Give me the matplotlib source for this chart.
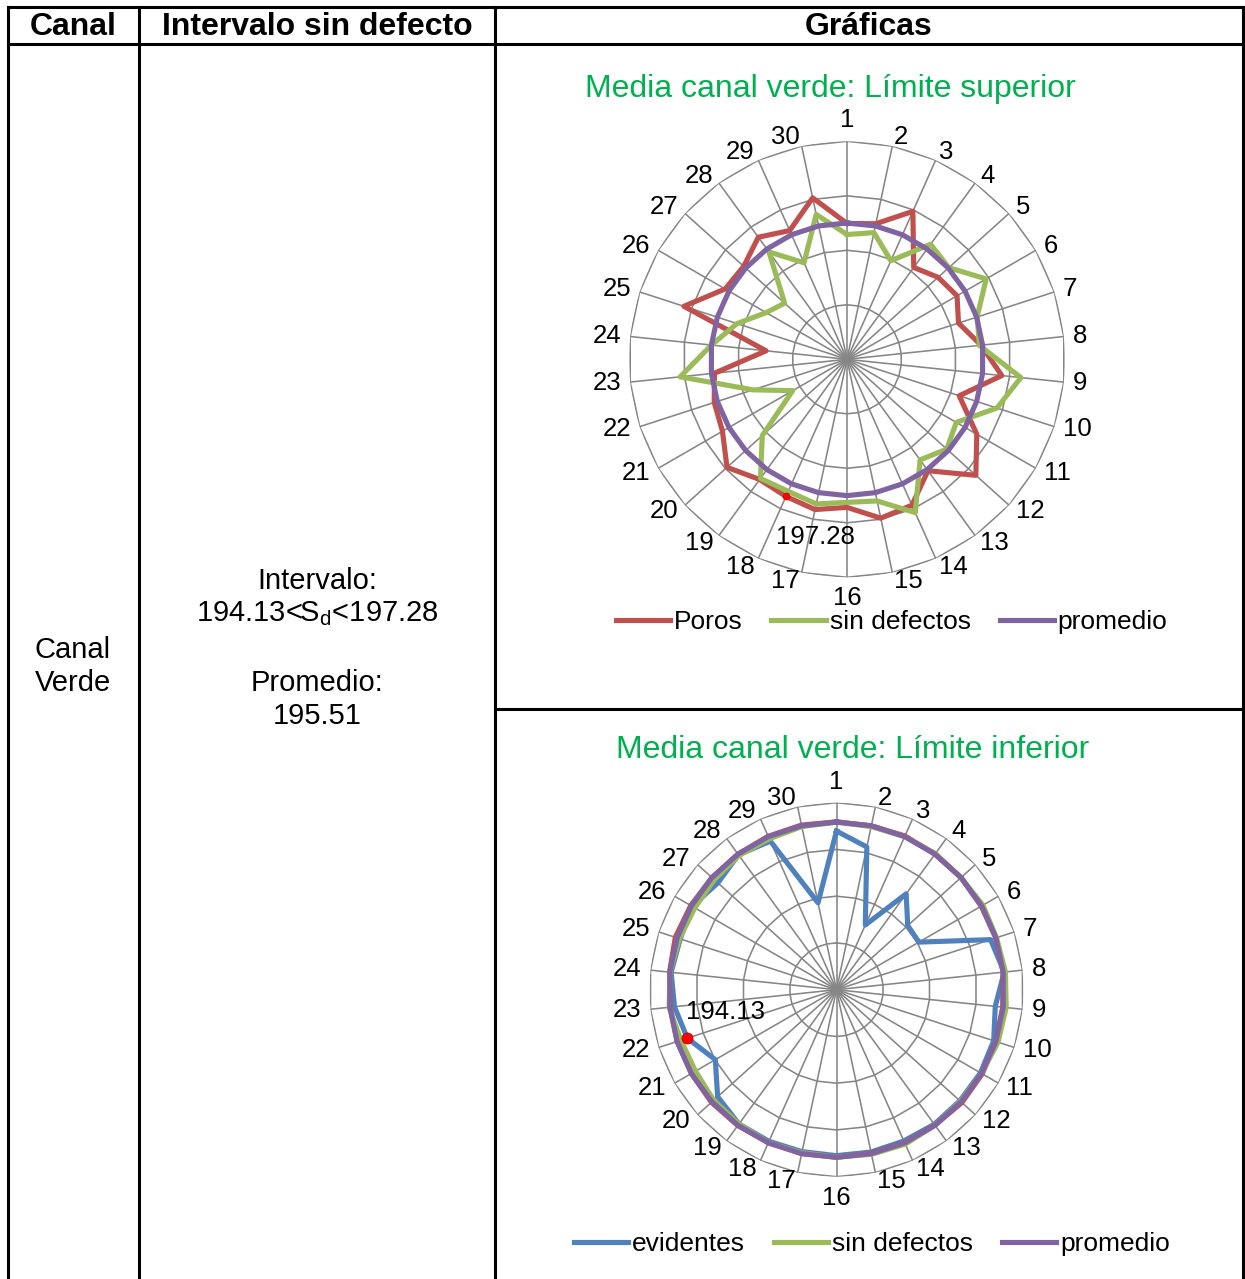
import numpy as np
import matplotlib.pyplot as plt
from matplotlib.lines import Line2D

plt.rcParams['font.family'] = ['Liberation Sans', 'DejaVu Sans']
plt.rcParams['mathtext.fontset'] = 'custom'
plt.rcParams['mathtext.rm'] = 'Liberation Sans'

# datos
categorias = [str(i) for i in range(1, 31)]
lim_inf = 194.13
lim_sup = 197.28
promedio = 195.51

sup_poros = [195.45, 195.80, 198.80, 192.58, 193.74, 194.32, 193.06, 195.31, 197.99, 193.16,
             197.25, 200.27, 195.69, 198.51, 198.86, 197.02, 197.73, 197.28, 197.08, 198.74,
             196.47, 195.93, 195.12, 188.45, 200.03, 196.07, 195.85, 197.38, 196.10, 199.20]
sup_sin_defectos = [194.03, 194.63, 191.86, 196.27, 195.59, 198.64, 195.57, 195.10, 200.46, 198.25,
                    194.21, 195.24, 193.97, 199.56, 196.60, 196.38, 196.99, 196.57, 196.91, 192.65,
                    186.05, 190.69, 199.55, 195.51, 192.85, 189.99, 188.78, 195.05, 191.57, 197.02]
sup_promedio = [promedio] * 30

inf_evidentes = [194.36, 192.73, 183.09, 189.21, 186.30, 186.21, 194.79, 195.64, 194.49, 195.21,
                 195.34, 195.30, 195.35, 195.25, 195.30, 195.30, 195.25, 195.30, 195.30, 194.53,
                 191.96, 194.13, 194.91, 195.34, 195.09, 195.40, 194.49, 195.40, 194.87, 185.40]
inf_poros = [195.55, 195.5, 195.6, 195.5, 195.5, 195.45, 195.5, 195.5, 195.45, 195.5,
             195.6, 195.65, 195.5, 195.5, 195.45, 195.5, 195.5, 195.5, 195.55, 195.6,
             195.5, 195.5, 195.45, 195.55, 195.75, 195.6, 195.5, 195.5, 195.55, 195.6]
inf_sin_defectos = [195.5, 195.4, 195.5, 195.6, 195.5, 195.7, 195.6, 195.8, 195.9, 195.8,
                    195.5, 195.4, 195.5, 195.7, 195.6, 195.5, 195.4, 195.5, 195.3, 195.2,
                    194.9, 195.0, 195.6, 195.5, 195.2, 195.0, 195.1, 195.3, 195.2, 195.4]
inf_promedio = [promedio] * 30

ROJO = '#C0504D'
VERDE = '#9BBB59'
MORADO = '#8064A2'
AZUL = '#4F81BD'
GRIS = '#868686'
TITULO = '#00B050'

W, H = 1245, 1279
fig = plt.figure(figsize=(W / 100, H / 100), dpi=100)


def px(x, y):
    return x / W, 1 - y / H


def linea(x0, y0, x1, y1):
    a, b = px(x0, y0)
    c, d = px(x1, y1)
    fig.add_artist(Line2D([a, c], [b, d], color='black', lw=2.2, solid_capstyle='projecting'))


# tabla
linea(8, 7, 1243, 7)
linea(8, 44, 1243, 44)
linea(495, 708.5, 1243, 708.5)
for x in [8, 139, 495, 1243]:
    linea(x, 7, x, H + 5)

fig.text(*px(73, 27), 'Canal', ha='center', va='center', fontsize=23, fontweight='bold')
fig.text(*px(317, 27), 'Intervalo sin defecto', ha='center', va='center', fontsize=23, fontweight='bold')
fig.text(*px(869, 27), 'Gráficas', ha='center', va='center', fontsize=23, fontweight='bold')

fig.text(*px(73, 650), 'Canal', ha='center', va='center', fontsize=21)
fig.text(*px(73, 683), 'Verde', ha='center', va='center', fontsize=21)
fig.text(*px(317, 581), 'Intervalo:', ha='center', va='center', fontsize=21)
fig.text(*px(317, 614), f'{lim_inf:.2f}<S$_\\mathrm{{d}}$<{lim_sup:.2f}', ha='center', va='center', fontsize=21)
fig.text(*px(317, 683), 'Promedio:', ha='center', va='center', fontsize=21)
fig.text(*px(317, 716), f'{promedio:.2f}', ha='center', va='center', fontsize=21)


def radar(cx, cy, radio, rlim, series, titulo, titulo_xy, ley_xy, marca, marca_off, marca_ms):
    ax = fig.add_axes([(cx - radio) / W, 1 - (cy + radio) / H, 2 * radio / W, 2 * radio / H],
                      projection='polar')
    ax.set_theta_zero_location('N')
    ax.set_theta_direction(-1)
    ax.set_rlim(*rlim)
    ax.grid(False)
    ax.set_xticks([])
    ax.set_yticks([])
    ax.spines['polar'].set_visible(False)
    ax.patch.set_alpha(0)

    ang = np.deg2rad(np.arange(len(categorias)) * 360 / len(categorias))
    cerrado = np.append(ang, ang[0])
    for a in ang:
        ax.plot([a, a], rlim, color=GRIS, lw=1.15, zorder=1)
    for r in np.linspace(rlim[0], rlim[1], 5)[1:]:
        ax.plot(cerrado, [r] * len(cerrado), color=GRIS, lw=1.15, zorder=1)

    gap = 6.5
    for a, lab in zip(ang, categorias):
        s, c = np.sin(a), np.cos(a)
        if abs(s) < 0.05:
            ha, va = 'center', ('bottom' if c > 0 else 'top')
        else:
            ha, va = ('left' if s > 0 else 'right'), 'center'
        ax.annotate(lab, xy=(a, rlim[1]), xytext=(gap * s, gap * c), textcoords='offset points',
                    ha=ha, va=va, fontsize=18.5, annotation_clip=False)

    handles = []
    for vals, color, label in series:
        ln, = ax.plot(cerrado, np.append(vals, vals[0]), color=color, lw=3.7, zorder=3)
        if label:
            ln.set_label(label)
            handles.append(ln)

    vals, idx = marca
    ax.plot(ang[idx], vals[idx], 'o', color='red', ms=marca_ms, mec='#C00000', mew=0.5, zorder=4)
    ax.annotate(f'{vals[idx]:.2f}', xy=(ang[idx], vals[idx]), xytext=marca_off, textcoords='offset points',
                ha='center', va='center', fontsize=18.5, zorder=5)

    fig.text(*px(*titulo_xy), titulo, ha='center', va='center', fontsize=23, color=TITULO)
    ax.legend(handles=handles, loc='center', bbox_to_anchor=px(*ley_xy), bbox_transform=fig.transFigure,
              ncol=3, frameon=False, fontsize=19, handlelength=2.05, handletextpad=0.15,
              columnspacing=1.1, borderpad=0, borderaxespad=0)
    return ax


radar(847, 359.3, 218, (178, 206),
      [(sup_poros, ROJO, 'Poros'), (sup_sin_defectos, VERDE, 'sin defectos'), (sup_promedio, MORADO, 'promedio')],
      'Media canal verde: Límite superior', (830, 89), (891.5, 622),
      (sup_poros, 17), (21, -29.5), 5)

radar(836.5, 989.7, 187, (174, 198),
      [(inf_evidentes, AZUL, 'evidentes'), (inf_poros, ROJO, None), (inf_sin_defectos, VERDE, 'sin defectos'),
       (inf_promedio, MORADO, 'promedio')],
      'Media canal verde: Límite inferior', (853, 750), (872, 1244),
      (inf_evidentes, 21), (27.6, 19.2), 8)

fig.savefig('out.png', dpi=100)
